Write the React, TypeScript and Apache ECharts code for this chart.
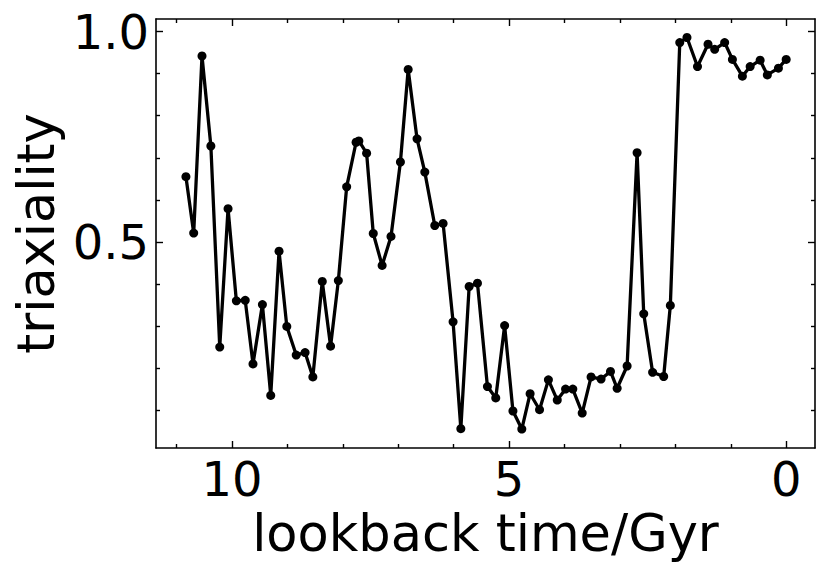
import React, { useEffect, useRef } from "react";
import * as echarts from "echarts";

const lookbackTime = [
  10.83, 10.69, 10.54, 10.38, 10.22, 10.07, 9.92, 9.76, 9.62, 9.45, 9.3, 9.15,
  9.01, 8.84, 8.68, 8.54, 8.37, 8.22, 8.08, 7.93, 7.76, 7.71, 7.57, 7.45, 7.29,
  7.13, 6.96, 6.82, 6.66, 6.52, 6.34, 6.19, 6.01, 5.87, 5.72, 5.57, 5.39, 5.24,
  5.08, 4.93, 4.77, 4.62, 4.45, 4.29, 4.13, 3.98, 3.85, 3.68, 3.52, 3.34, 3.17,
  3.05, 2.87, 2.69, 2.57, 2.41, 2.21, 2.09, 1.92, 1.79, 1.6, 1.41, 1.29, 1.11,
  0.97, 0.79, 0.65, 0.47, 0.34, 0.14, 0.0,
];
const triaxiality = [
  0.655, 0.521, 0.942, 0.728, 0.25, 0.579, 0.36, 0.361, 0.21, 0.351, 0.135,
  0.478, 0.299, 0.231, 0.237, 0.179, 0.406, 0.252, 0.408, 0.631, 0.737, 0.74,
  0.711, 0.52, 0.444, 0.513, 0.69, 0.91, 0.745, 0.666, 0.539, 0.544, 0.31,
  0.056, 0.394, 0.402, 0.156, 0.129, 0.301, 0.098, 0.055, 0.139, 0.101, 0.172,
  0.124, 0.15, 0.15, 0.093, 0.179, 0.174, 0.192, 0.152, 0.205, 0.712, 0.329,
  0.19, 0.18, 0.349, 0.974, 0.986, 0.917, 0.97, 0.958, 0.974, 0.934, 0.894,
  0.917, 0.932, 0.897, 0.913, 0.934,
];

const xMajorTicks = [0, 5, 10];
const xMinorTicks = [1, 2, 3, 4, 6, 7, 8, 9, 11];
const yMajorTicks = [0.5, 1.0];
const yMinorTicks = [0.1, 0.2, 0.3, 0.4, 0.6, 0.7, 0.8, 0.9];

const X_MIN = -0.52;
const X_MAX = 11.37;
const Y_MIN = 0.01;
const Y_MAX = 1.03;

const FONT = "DejaVu Sans";

export default function App() {
  const ref = useRef<HTMLDivElement>(null);

  useEffect(() => {
    if (!ref.current) return;
    const chart = echarts.init(ref.current, undefined, { renderer: "svg" });

    const lineStyle = { color: "#000", width: 1.6 };

    const mkX = (
      position: string,
      ticks: number[],
      len: number,
      showLine: boolean,
      labels: boolean
    ): any => ({
      type: "value",
      position,
      min: X_MIN,
      max: X_MAX,
      inverse: true,
      splitLine: { show: false },
      axisLine: { show: showLine, onZero: false, lineStyle },
      axisTick: {
        show: true,
        inside: true,
        length: len,
        customValues: ticks,
        lineStyle: { color: "#000", width: 1.4 },
      },
      axisLabel: labels
        ? {
            show: true,
            customValues: ticks,
            color: "#000",
            fontFamily: FONT,
            fontSize: 48,
            margin: 7,
            formatter: (v: number) => String(Math.round(v)),
          }
        : { show: false },
      ...(labels
        ? {
            name: "lookback time/Gyr",
            nameLocation: "middle",
            nameGap: 55,
            nameTextStyle: { color: "#000", fontFamily: FONT, fontSize: 51 },
          }
        : {}),
    });

    const mkY = (
      position: string,
      ticks: number[],
      len: number,
      showLine: boolean,
      labels: boolean
    ): any => ({
      type: "value",
      position,
      min: Y_MIN,
      max: Y_MAX,
      splitLine: { show: false },
      axisLine: { show: showLine, onZero: false, lineStyle },
      axisTick: {
        show: true,
        inside: true,
        length: len,
        customValues: ticks,
        lineStyle: { color: "#000", width: 1.4 },
      },
      axisLabel: labels
        ? {
            show: true,
            customValues: ticks,
            color: "#000",
            fontFamily: FONT,
            fontSize: 48,
            margin: 7,
            formatter: (v: number) => v.toFixed(1),
          }
        : { show: false },
      ...(labels
        ? {
            name: "triaxiality",
            nameLocation: "middle",
            nameGap: 92,
            nameRotate: 90,
            nameTextStyle: { color: "#000", fontFamily: FONT, fontSize: 51 },
          }
        : {}),
    });

    chart.setOption({
      animation: false,
      backgroundColor: "#fff",
      grid: { left: 156, right: 15, top: 19, bottom: 126, containLabel: false },
      xAxis: [
        mkX("bottom", xMajorTicks, 7, true, true),
        mkX("bottom", xMinorTicks, 4, false, false),
        mkX("top", xMajorTicks, 7, true, false),
        mkX("top", xMinorTicks, 4, false, false),
      ],
      yAxis: [
        mkY("left", yMajorTicks, 7, true, true),
        mkY("left", yMinorTicks, 4, false, false),
        mkY("right", yMajorTicks, 7, true, false),
        mkY("right", yMinorTicks, 4, false, false),
      ],
      series: [
        {
          type: "line",
          xAxisIndex: 0,
          yAxisIndex: 0,
          data: lookbackTime.map((t, i) => [t, triaxiality[i]]),
          symbol: "circle",
          symbolSize: 9,
          showSymbol: true,
          itemStyle: { color: "#000" },
          lineStyle: { color: "#000", width: 3.3 },
        },
      ],
    });

    return () => chart.dispose();
  }, []);

  return (
    <div
      ref={ref}
      style={{ position: "fixed", left: 0, top: 0, width: 830, height: 574 }}
    />
  );
}
